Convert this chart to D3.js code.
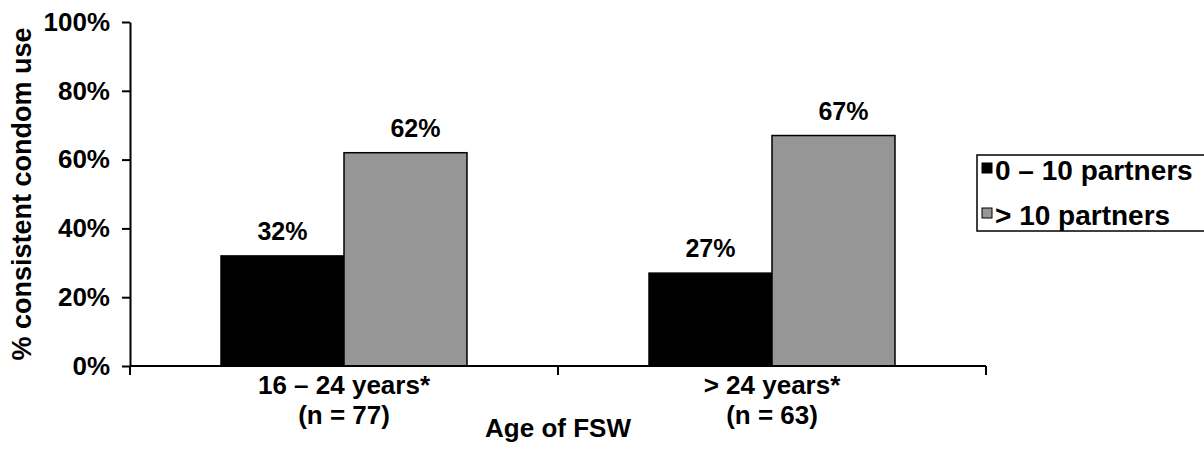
<!DOCTYPE html>
<html>
<head>
<meta charset="utf-8">
<script src="https://cdn.jsdelivr.net/npm/d3@7"></script>
<style>
  body { margin: 0; background: #fff; }
  text { font-family: "Liberation Sans", Arial, sans-serif; font-weight: bold; fill: #000; }
</style>
</head>
<body>
<svg id="chart" width="1204" height="469"></svg>
<script>
// Consistent condom use by age group and number of partners
const ageGroups = ["16 – 24 years*", "> 24 years*"];
const sampleSizes = ["(n = 77)", "(n = 63)"];
const seriesNames = ["0 – 10 partners", "> 10 partners"];
const lowPartners = [32, 27];   // 0 – 10 partners, %
const highPartners = [62, 67];  // > 10 partners, %
const yTicks = [0, 20, 40, 60, 80, 100];
const seriesColors = ["#000000", "#969696"];

const seriesValues = [lowPartners, highPartners];

const svg = d3.select("#chart");

const plot = { left: 130, right: 986, top: 22, bottom: 366 };

const y = d3.scaleLinear().domain([0, 100]).range([plot.bottom, plot.top]);
const x0 = d3.scaleBand().domain(ageGroups).range([plot.left, plot.right]).paddingInner(0).paddingOuter(0);
const x1 = d3.scaleBand().domain(d3.range(seriesNames.length)).range([0, x0.bandwidth()])
  .paddingInner(0).paddingOuter(0.74);

const cells = (d, gi) => seriesValues.map((vals, si) => ({ si, v: vals[gi] }));

// Bars
const groups = svg.append("g").selectAll("g")
  .data(ageGroups)
  .join("g")
  .attr("transform", d => `translate(${x0(d)},0)`);

groups.selectAll("rect")
  .data(cells)
  .join("rect")
  .attr("x", d => x1(d.si))
  .attr("y", d => y(d.v))
  .attr("width", x1.bandwidth())
  .attr("height", d => y(0) - y(d.v))
  .attr("fill", d => seriesColors[d.si])
  .attr("stroke", "#000")
  .attr("stroke-width", 1.5);

// Value labels
groups.selectAll("text.val")
  .data(cells)
  .join("text")
  .attr("class", "val")
  .attr("x", d => x1(d.si) + x1.bandwidth() / 2 + (d.si === 1 ? 10 : 0))
  .attr("y", d => y(d.v) - 16)
  .attr("text-anchor", "middle")
  .attr("font-size", 25)
  .text(d => d.v + "%");

// Y axis
const yAxis = svg.append("g")
  .attr("transform", `translate(${plot.left},0)`)
  .call(d3.axisLeft(y).tickValues(yTicks).tickFormat(d => d + "%").tickSize(8).tickSizeOuter(0).tickPadding(12));
yAxis.attr("font-size", 26).attr("font-family", null);
yAxis.select(".domain").attr("stroke-width", 2);
yAxis.selectAll(".tick line").attr("stroke-width", 2);
yAxis.selectAll(".tick text").attr("font-size", 26);

// X axis line and category boundary ticks
const xAxis = svg.append("g");
xAxis.append("line")
  .attr("x1", plot.left).attr("x2", plot.right)
  .attr("y1", y(0)).attr("y2", y(0))
  .attr("stroke", "#000").attr("stroke-width", 2);
const boundaries = ageGroups.map(d => x0(d)).concat([x0(ageGroups[ageGroups.length - 1]) + x0.bandwidth()]);
xAxis.selectAll("line.tick")
  .data(boundaries)
  .join("line")
  .attr("class", "tick")
  .attr("x1", d => d).attr("x2", d => d)
  .attr("y1", y(0)).attr("y2", y(0) + 9)
  .attr("stroke", "#000").attr("stroke-width", 2);

// Category labels
xAxis.selectAll("text.cat")
  .data(ageGroups)
  .join("text")
  .attr("class", "cat")
  .attr("x", d => x0(d) + x0.bandwidth() / 2)
  .attr("y", 394)
  .attr("text-anchor", "middle")
  .attr("font-size", 26)
  .text(d => d);
xAxis.selectAll("text.n")
  .data(ageGroups)
  .join("text")
  .attr("class", "n")
  .attr("x", d => x0(d) + x0.bandwidth() / 2)
  .attr("y", 424)
  .attr("text-anchor", "middle")
  .attr("font-size", 26)
  .text((d, i) => sampleSizes[i]);

// Axis titles
svg.append("text")
  .attr("x", (plot.left + plot.right) / 2)
  .attr("y", 437)
  .attr("text-anchor", "middle")
  .attr("font-size", 26)
  .text("Age of FSW");

svg.append("text")
  .attr("transform", `translate(31,${(plot.top + plot.bottom) / 2}) rotate(-90)`)
  .attr("text-anchor", "middle")
  .attr("font-size", 27)
  .text("% consistent condom use");

// Legend
const legend = svg.append("g").attr("transform", "translate(977,155)");
legend.append("rect")
  .attr("width", 240).attr("height", 76)
  .attr("fill", "#fff").attr("stroke", "#000").attr("stroke-width", 1.5);
const items = legend.selectAll("g.item")
  .data(seriesNames)
  .join("g")
  .attr("class", "item")
  .attr("transform", (d, i) => `translate(5,${8 + i * 45})`);
items.append("rect")
  .attr("width", 10).attr("height", 10)
  .attr("fill", (d, i) => seriesColors[i])
  .attr("stroke", "#000").attr("stroke-width", 1);
items.append("text")
  .attr("x", 13).attr("y", 17)
  .attr("font-size", 28)
  .text(d => d);
</script>
</body>
</html>
